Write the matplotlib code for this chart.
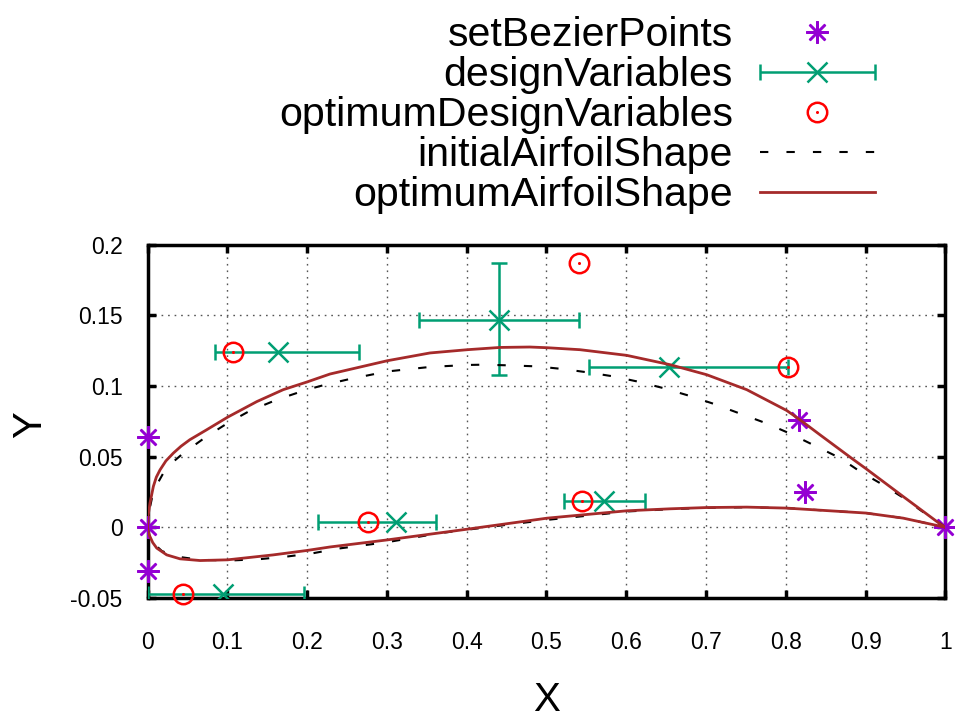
import matplotlib
matplotlib.use("Agg")
import matplotlib.pyplot as plt
from matplotlib.legend_handler import HandlerErrorbar, HandlerTuple

plt.rcParams['font.family'] = ['Liberation Sans', 'DejaVu Sans']

# Fixed Bezier control points
bezier_x = [0.0, 0.0, 0.0, 0.816, 0.824, 1.0]
bezier_y = [0.064, 0.0, -0.031, 0.076, 0.025, 0.0]

# Design variables (initial values) and their x ranges
design_x = [0.164, 0.441, 0.653, 0.095, 0.312, 0.572]
design_y = [0.124, 0.147, 0.1134, -0.0471, 0.0037, 0.0188]
design_xmin = [0.085, 0.340, 0.553, 0.0, 0.213, 0.522]
design_xmax = [0.265, 0.541, 0.803, 0.196, 0.362, 0.623]
# The second design variable is also free in y
design_y_index = 1
design_ymin = 0.1075
design_ymax = 0.187

# Optimum design variables
optimum_x = [0.1075, 0.541, 0.803, 0.045, 0.276, 0.545]
optimum_y = [0.124, 0.187, 0.1134, -0.0471, 0.0037, 0.0188]

# Initial airfoil shape (upper and lower surface, leading to trailing edge)
init_upper_x = [0.0, 0.0015, 0.006, 0.012, 0.0198, 0.031, 0.0449, 0.074, 0.1005,
                0.1284, 0.162, 0.1995, 0.2246, 0.2538, 0.3005, 0.354, 0.4008,
                0.4208, 0.4543, 0.4877, 0.521, 0.5524, 0.584, 0.613, 0.646, 0.6777,
                0.709, 0.742, 0.776, 0.805, 0.834, 0.868, 0.893, 0.918, 0.947,
                0.968, 1.0]
init_upper_y = [0.0, 0.010, 0.022, 0.0305, 0.0384, 0.0458, 0.0525, 0.0643, 0.0738,
                0.0825, 0.0903, 0.0974, 0.1012, 0.105, 0.1103, 0.1135, 0.1149,
                0.1151, 0.1146, 0.1139, 0.112, 0.1096, 0.1068, 0.1033, 0.0986, 0.0933,
                0.0875, 0.0806, 0.0735, 0.0664, 0.0584, 0.049, 0.0395, 0.0313, 0.0210,
                0.0124, 0.0]
init_lower_x = [0.0, 0.0015, 0.0073, 0.018, 0.0366, 0.0658, 0.1034, 0.141, 0.1744,
                0.2078, 0.237, 0.3005, 0.3665, 0.4333, 0.501, 0.563, 0.6005, 0.6548,
                0.7008, 0.751, 0.801, 0.9004, 0.947, 1.0]
init_lower_y = [0.0, -0.0055, -0.0112, -0.0168, -0.0207, -0.023, -0.0235, -0.0225,
                -0.0207, -0.0183, -0.0152, -0.0105, -0.0041, 0.0006, 0.0053, 0.0089,
                0.0112, 0.0128, 0.0138, 0.0142, 0.0136, 0.0101, 0.0065, 0.0]

# Optimum airfoil shape
opt_upper_x = [0.0, 0.0007, 0.003, 0.0073, 0.011, 0.0157, 0.023, 0.0323, 0.042,
               0.053, 0.074, 0.1005, 0.137, 0.170, 0.1995, 0.2287, 0.3005, 0.354,
               0.4008, 0.4417, 0.479, 0.501, 0.542, 0.6005, 0.6548, 0.7008, 0.751,
               0.801, 0.8177, 0.8427, 0.8845, 0.9004, 0.947, 0.993, 1.0]
opt_upper_y = [0.0, 0.008, 0.017, 0.029, 0.0355, 0.0407, 0.0470, 0.0525, 0.0574,
               0.062, 0.069, 0.078, 0.089, 0.0974, 0.1028, 0.1085, 0.1179, 0.1234,
               0.1257, 0.1273, 0.1276, 0.1271, 0.1257, 0.1217, 0.1151, 0.108, 0.0974,
               0.0827, 0.0761, 0.0655, 0.0480, 0.0415, 0.0218, 0.0025, 0.0]
opt_lower_x = [0.0, 0.001, 0.003, 0.0065, 0.0115, 0.024, 0.0407, 0.0658, 0.1005,
               0.1577, 0.1995, 0.2287, 0.3005, 0.4008, 0.501, 0.6005, 0.6548, 0.7008,
               0.751, 0.801, 0.9004, 0.947, 1.0]
opt_lower_y = [0.0, -0.0035, -0.0065, -0.0108, -0.0147, -0.0195, -0.0223, -0.0235,
               -0.0230, -0.0195, -0.0164, -0.0139, -0.0089, -0.0013, 0.0065, 0.0117,
               0.0131, 0.014, 0.0143, 0.0136, 0.0101, 0.0065, 0.0]

x_ticks = [0, 0.1, 0.2, 0.3, 0.4, 0.5, 0.6, 0.7, 0.8, 0.9, 1]
x_ticklabels = ['0', '0.1', '0.2', '0.3', '0.4', '0.5', '0.6', '0.7', '0.8', '0.9', '1']
y_ticks = [-0.05, 0, 0.05, 0.1, 0.15, 0.2]
y_ticklabels = ['-0.05', '0', '0.05', '0.1', '0.15', '0.2']

PURPLE = '#9400d3'
GREEN = '#009e73'
RED = '#ff0000'
BROWN = '#a52a2a'

fig = plt.figure(figsize=(9.55, 7.17), dpi=100)
ax = fig.add_axes([0.1545, 0.166, 0.8355, 0.4927])
ax.set_xlim(0, 1)
ax.set_ylim(-0.05, 0.2)

# fixed control points
h_bez, = ax.plot(bezier_x, bezier_y, linestyle='none', marker=(8, 2, 0),
                 markersize=16, markeredgewidth=1.8, color=PURPLE,
                 clip_on=False, zorder=3)

# design variables with range bars
xerr_lo = [x - lo for x, lo in zip(design_x, design_xmin)]
xerr_hi = [hi - x for x, hi in zip(design_x, design_xmax)]
h_dv = ax.errorbar(design_x, design_y, xerr=[xerr_lo, xerr_hi], fmt='x',
                   color=GREEN, markersize=14, markeredgewidth=1.8,
                   elinewidth=1.8, capsize=6, capthick=1.8, zorder=4)
i = design_y_index
ax.errorbar([design_x[i]], [design_y[i]],
            yerr=[[design_y[i] - design_ymin], [design_ymax - design_y[i]]],
            fmt='none', ecolor=GREEN, elinewidth=1.8, capsize=6, capthick=1.8,
            zorder=4)

# optimum design variables
h_opt_c, = ax.plot(optimum_x, optimum_y, linestyle='none', marker='o',
                   markersize=14, markerfacecolor='none', markeredgecolor=RED,
                   markeredgewidth=1.8, zorder=5, clip_on=False)
h_opt_d, = ax.plot(optimum_x, optimum_y, linestyle='none', marker='o',
                   markersize=2.2, color=RED, markeredgewidth=0, zorder=5,
                   clip_on=False)

# airfoil shapes (closed contours through trailing edge)
init_x = init_upper_x[::-1] + init_lower_x[1:]
init_y = init_upper_y[::-1] + init_lower_y[1:]
opt_x = opt_upper_x[::-1] + opt_lower_x[1:]
opt_y = opt_upper_y[::-1] + opt_lower_y[1:]
h_init, = ax.plot(init_x, init_y, color='black', linewidth=1.5,
                  linestyle=(0, (4, 8.7)), zorder=6)
h_optline, = ax.plot(opt_x, opt_y, color=BROWN, linewidth=2.0, zorder=7,
                     solid_joinstyle='round')

# axes styling
ax.set_xticks(x_ticks)
ax.set_xticklabels(x_ticklabels)
ax.set_yticks(y_ticks)
ax.set_yticklabels(y_ticklabels)
ax.tick_params(direction='in', length=6, width=2.5, top=True, right=True,
               labelsize=16.5)
ax.tick_params(axis='x', pad=24)
ax.tick_params(axis='y', pad=18)
for s in ax.spines.values():
    s.set_linewidth(2.5)
ax.grid(True, color='#555555', linestyle=(0, (1.2, 3.5)), linewidth=1.0)
ax.set_axisbelow(True)

ax.set_xlabel('X', fontsize=29, labelpad=19)
ax.set_ylabel('Y', fontsize=29)
ax.yaxis.set_label_coords(-0.147, 0.49)
ax.yaxis.label.set_verticalalignment('center')

leg = fig.legend([h_bez, h_dv, (h_opt_c, h_opt_d), h_init, h_optline],
                 ['setBezierPoints', 'designVariables', 'optimumDesignVariables',
                  'initialAirfoilShape', 'optimumAirfoilShape'],
                 loc='upper right', bbox_to_anchor=(875 / 955, 1 - 16 / 717),
                 markerfirst=False, frameon=False, fontsize=29.6,
                 handlelength=2.8, handletextpad=0.66, labelspacing=0.05,
                 borderpad=0, borderaxespad=0,
                 handler_map={type(h_dv): HandlerErrorbar(xerr_size=1.4),
                              tuple: HandlerTuple(ndivide=1)})
for t in leg.get_texts():
    t.set_ha('right')

fig.savefig('out.png', dpi=100)
